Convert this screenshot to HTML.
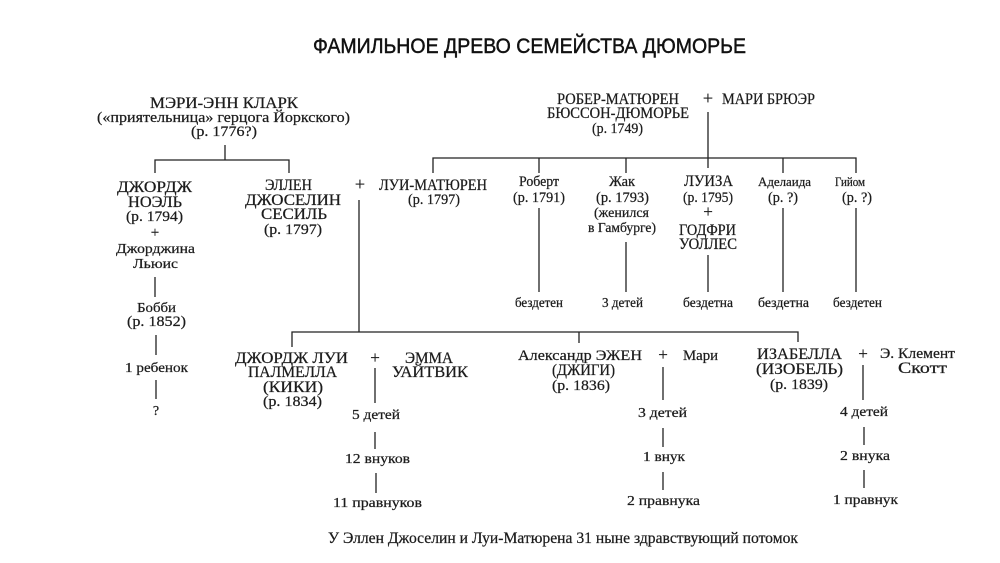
<!DOCTYPE html>
<html><head><meta charset="utf-8"><style>
html,body{margin:0;padding:0;background:#fff;}
svg{display:block;}
.s{font-family:"Liberation Serif","DejaVu Serif",serif;fill:#1c1c1c;stroke:#1c1c1c;stroke-width:0.25;}
.t{font-family:"Liberation Sans","DejaVu Sans",sans-serif;fill:#111;}
</style></head><body>
<svg width="1000" height="563" viewBox="0 0 1000 563" xmlns="http://www.w3.org/2000/svg">
<rect width="1000" height="563" fill="#fff"/>
<text class="t" x="313" y="53" font-size="21" textLength="433" lengthAdjust="spacingAndGlyphs" stroke="#111" stroke-width="0.45">ФАМИЛЬНОЕ ДРЕВО СЕМЕЙСТВА ДЮМОРЬЕ</text>

<g stroke="#222" stroke-width="1.3" fill="none">
<path d="M225 145V160M155 173V160H289V173"/>
<path d="M155 277V297M156 335V355M156 380V399"/>
<path d="M359 200V332"/>
<path d="M292 347V332H798V342M579 332V343"/>
<path d="M375 368V403M375 432V449M376 473V493"/>
<path d="M663 367V400M663 428V447M663 472V490"/>
<path d="M863 365V400M864 427V445M864 470V488"/>
<path d="M708 112V168M433 173V158H856V173M539 158V173M626 158V173M783 158V173"/>
<path d="M539 208V292M626 242V292M708 255V292M783 208V292M856 208V292"/>
</g>

<g class="s">
<text x="150" y="108" font-size="16" textLength="148" lengthAdjust="spacingAndGlyphs">МЭРИ-ЭНН КЛАРК</text>
<text x="97" y="122" font-size="15" textLength="253" lengthAdjust="spacingAndGlyphs">(«приятельница» герцога Йоркского)</text>
<text x="191" y="136" font-size="15" textLength="66" lengthAdjust="spacingAndGlyphs">(р. 1776?)</text>

<text x="117" y="192" font-size="16" textLength="75" lengthAdjust="spacingAndGlyphs">ДЖОРДЖ</text>
<text x="128" y="207" font-size="16" textLength="54" lengthAdjust="spacingAndGlyphs">НОЭЛЬ</text>
<text x="126" y="221" font-size="15" textLength="57" lengthAdjust="spacingAndGlyphs">(р. 1794)</text>
<text x="155" y="237" font-size="15" text-anchor="middle">+</text>
<text x="116" y="253" font-size="14" textLength="79" lengthAdjust="spacingAndGlyphs">Джорджина</text>
<text x="133" y="268" font-size="14" textLength="45" lengthAdjust="spacingAndGlyphs">Льюис</text>
<text x="137" y="312" font-size="14" textLength="39" lengthAdjust="spacingAndGlyphs">Бобби</text>
<text x="127" y="326" font-size="15" textLength="59" lengthAdjust="spacingAndGlyphs">(р. 1852)</text>
<text x="125" y="372" font-size="14" textLength="63" lengthAdjust="spacingAndGlyphs">1 ребенок</text>
<text x="156" y="415" font-size="14" text-anchor="middle">?</text>

<text x="265" y="190" font-size="16" textLength="47" lengthAdjust="spacingAndGlyphs">ЭЛЛЕН</text>
<text x="245" y="205" font-size="16" textLength="96" lengthAdjust="spacingAndGlyphs">ДЖОСЕЛИН</text>
<text x="261" y="219" font-size="16" textLength="66" lengthAdjust="spacingAndGlyphs">СЕСИЛЬ</text>
<text x="264" y="234" font-size="15" textLength="58" lengthAdjust="spacingAndGlyphs">(р. 1797)</text>
<text x="360" y="190" font-size="18" text-anchor="middle">+</text>
<text x="379" y="190" font-size="16" textLength="108" lengthAdjust="spacingAndGlyphs">ЛУИ-МАТЮРЕН</text>
<text x="408" y="204" font-size="15" textLength="52" lengthAdjust="spacingAndGlyphs">(р. 1797)</text>

<text x="557" y="104" font-size="16" textLength="122" lengthAdjust="spacingAndGlyphs">РОБЕР-МАТЮРЕН</text>
<text x="708" y="104" font-size="18" text-anchor="middle">+</text>
<text x="722" y="104" font-size="16" textLength="93" lengthAdjust="spacingAndGlyphs">МАРИ БРЮЭР</text>
<text x="547" y="118" font-size="16" textLength="142" lengthAdjust="spacingAndGlyphs">БЮССОН-ДЮМОРЬЕ</text>
<text x="592" y="133" font-size="15" textLength="51" lengthAdjust="spacingAndGlyphs">(р. 1749)</text>

<text x="519" y="186" font-size="15" textLength="40" lengthAdjust="spacingAndGlyphs">Роберт</text>
<text x="513" y="202" font-size="15" textLength="52" lengthAdjust="spacingAndGlyphs">(р. 1791)</text>
<text x="609" y="186" font-size="15" textLength="26" lengthAdjust="spacingAndGlyphs">Жак</text>
<text x="596" y="202" font-size="15" textLength="53" lengthAdjust="spacingAndGlyphs">(р. 1793)</text>
<text x="594" y="217" font-size="14" textLength="55" lengthAdjust="spacingAndGlyphs">(женился</text>
<text x="588" y="232" font-size="14" textLength="68" lengthAdjust="spacingAndGlyphs">в Гамбурге)</text>
<text x="684" y="186" font-size="16" textLength="49" lengthAdjust="spacingAndGlyphs">ЛУИЗА</text>
<text x="683" y="202" font-size="15" textLength="50" lengthAdjust="spacingAndGlyphs">(р. 1795)</text>
<text x="708" y="217" font-size="17" text-anchor="middle">+</text>
<text x="679" y="235" font-size="16" textLength="57" lengthAdjust="spacingAndGlyphs">ГОДФРИ</text>
<text x="679" y="249" font-size="16" textLength="58" lengthAdjust="spacingAndGlyphs">УОЛЛЕС</text>
<text x="758" y="186" font-size="13" textLength="53" lengthAdjust="spacingAndGlyphs">Аделаида</text>
<text x="768" y="202" font-size="15" textLength="30" lengthAdjust="spacingAndGlyphs">(р. ?)</text>
<text x="835" y="186" font-size="13" textLength="30" lengthAdjust="spacingAndGlyphs">Гийом</text>
<text x="842" y="202" font-size="15" textLength="30" lengthAdjust="spacingAndGlyphs">(р. ?)</text>
<text x="515" y="307" font-size="14" textLength="48" lengthAdjust="spacingAndGlyphs">бездетен</text>
<text x="602" y="307" font-size="14" textLength="41" lengthAdjust="spacingAndGlyphs">3 детей</text>
<text x="683" y="307" font-size="14" textLength="50" lengthAdjust="spacingAndGlyphs">бездетна</text>
<text x="758" y="307" font-size="14" textLength="51" lengthAdjust="spacingAndGlyphs">бездетна</text>
<text x="833" y="307" font-size="14" textLength="49" lengthAdjust="spacingAndGlyphs">бездетен</text>

<text x="235" y="363" font-size="16" textLength="113" lengthAdjust="spacingAndGlyphs">ДЖОРДЖ ЛУИ</text>
<text x="375" y="363" font-size="17" text-anchor="middle">+</text>
<text x="405" y="363" font-size="16" textLength="48" lengthAdjust="spacingAndGlyphs">ЭММА</text>
<text x="248" y="377" font-size="16" textLength="89" lengthAdjust="spacingAndGlyphs">ПАЛМЕЛЛА</text>
<text x="392" y="377" font-size="16" textLength="76" lengthAdjust="spacingAndGlyphs">УАЙТВИК</text>
<text x="263" y="392" font-size="16" textLength="60" lengthAdjust="spacingAndGlyphs">(КИКИ)</text>
<text x="263" y="406" font-size="15" textLength="59" lengthAdjust="spacingAndGlyphs">(р. 1834)</text>
<text x="352" y="419" font-size="14" textLength="48" lengthAdjust="spacingAndGlyphs">5 детей</text>
<text x="345" y="463" font-size="14" textLength="65" lengthAdjust="spacingAndGlyphs">12 внуков</text>
<text x="333" y="507" font-size="14" textLength="89" lengthAdjust="spacingAndGlyphs">11 правнуков</text>

<text x="518" y="360" font-size="15" textLength="124" lengthAdjust="spacingAndGlyphs">Александр ЭЖЕН</text>
<text x="663" y="360" font-size="17" text-anchor="middle">+</text>
<text x="683" y="360" font-size="15" textLength="35" lengthAdjust="spacingAndGlyphs">Мари</text>
<text x="552" y="375" font-size="16" textLength="63" lengthAdjust="spacingAndGlyphs">(ДЖИГИ)</text>
<text x="552" y="390" font-size="15" textLength="58" lengthAdjust="spacingAndGlyphs">(р. 1836)</text>
<text x="638" y="417" font-size="14" textLength="49" lengthAdjust="spacingAndGlyphs">3 детей</text>
<text x="643" y="461" font-size="14" textLength="42" lengthAdjust="spacingAndGlyphs">1 внук</text>
<text x="627" y="505" font-size="14" textLength="73" lengthAdjust="spacingAndGlyphs">2 правнука</text>

<text x="757" y="359" font-size="16" textLength="85" lengthAdjust="spacingAndGlyphs">ИЗАБЕЛЛА</text>
<text x="863" y="359" font-size="17" text-anchor="middle">+</text>
<text x="880" y="358" font-size="15" textLength="75" lengthAdjust="spacingAndGlyphs">Э. Клемент</text>
<text x="756" y="374" font-size="16" textLength="87" lengthAdjust="spacingAndGlyphs">(ИЗОБЕЛЬ)</text>
<text x="898" y="373" font-size="16" textLength="49" lengthAdjust="spacingAndGlyphs">Скотт</text>
<text x="770" y="389" font-size="15" textLength="58" lengthAdjust="spacingAndGlyphs">(р. 1839)</text>
<text x="840" y="416" font-size="14" textLength="48" lengthAdjust="spacingAndGlyphs">4 детей</text>
<text x="840" y="460" font-size="14" textLength="50" lengthAdjust="spacingAndGlyphs">2 внука</text>
<text x="833" y="504" font-size="14" textLength="65" lengthAdjust="spacingAndGlyphs">1 правнук</text>

<text x="328" y="543" font-size="16" textLength="470" lengthAdjust="spacingAndGlyphs">У Эллен Джоселин и Луи-Матюрена 31 ныне здравствующий потомок</text>
</g>
</svg>
</body></html>
